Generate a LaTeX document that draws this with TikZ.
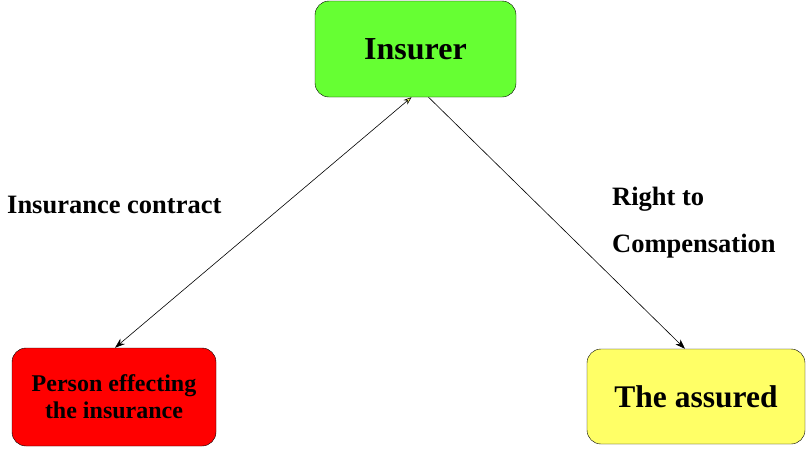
\documentclass[tikz,border=0pt]{standalone}
\usepackage{fontspec}
\setmainfont{Liberation Serif}
\usetikzlibrary{arrows.meta}
\definecolor{insgreen}{HTML}{66FF33}
\definecolor{insred}{HTML}{FF0000}
\definecolor{insyellow}{HTML}{FFFF66}
\begin{document}
\begin{tikzpicture}[x=1pt,y=-1pt,
 party/.style={draw=black,rounded corners=14pt,inner sep=0pt,font=\bfseries},
 lbl/.style={inner sep=0pt,anchor=west,align=left,font=\bfseries\fontsize{26.5}{47}\selectfont},
 link/.style={black,semithick}]
 \useasboundingbox (0,0) rectangle (806,448);
 \node[party,fill=insgreen,minimum width=201pt,minimum height=96pt,font=\bfseries\fontsize{32}{38}\selectfont](insurer) at (415.5,49) {Insurer};
 \node[party,fill=insred,minimum width=204pt,minimum height=98pt,align=center,font=\bfseries\fontsize{24}{27}\selectfont](person) at (114,397) {Person effecting\\the insurance};
 \node[party,fill=insyellow,minimum width=218pt,minimum height=95pt,font=\bfseries\fontsize{31.5}{38}\selectfont](assured) at (696,396.5) {The assured};
 \draw[link,{Stealth[open,fill=insyellow,length=8pt,width=6pt]}-{Stealth[length=10pt,width=7pt]}]([xshift=-4pt]insurer.south)--([xshift=1pt]person.north);
 \draw[link,-{Stealth[length=10pt,width=7pt]}]([xshift=13pt]insurer.south)--([xshift=-11pt]assured.north);
 \node[lbl](contract) at (7,205) {Insurance contract};
 \node[lbl](right) at (612,223) {Right to\\Compensation};
\end{tikzpicture}
\end{document}
